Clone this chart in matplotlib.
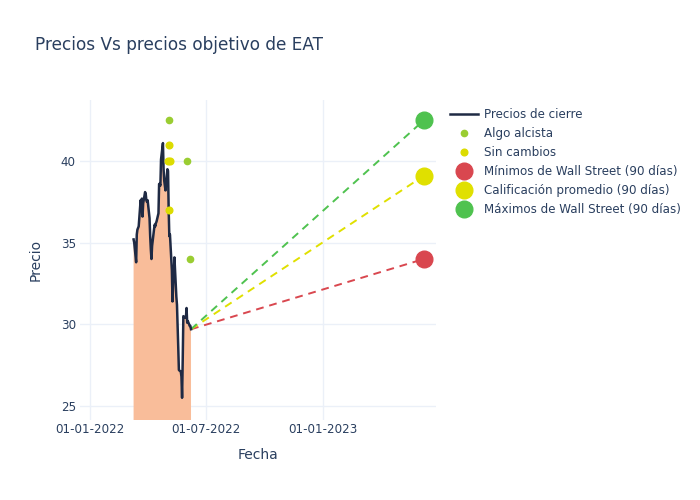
#!/usr/bin/env python3
import matplotlib
matplotlib.use('Agg')
import matplotlib.pyplot as plt
import matplotlib.dates as mdates
import pandas as pd

# Closing prices, business days 10-03-2022 .. 08-06-2022
dates = pd.bdate_range('2022-03-10', '2022-06-08')
close = [35.2, 35.0, 33.8, 35.5, 35.8, 35.9, 36.0, 37.6, 37.2, 37.7,
         36.6, 37.4, 38.1, 38.0, 37.6, 37.5, 37.6, 36.5, 35.4, 34.6,
         34.0, 34.8, 35.8, 36.1, 36.0, 36.2, 36.3, 36.8, 38.6, 38.6,
         38.5, 40.1, 41.1, 39.5, 38.8, 38.5, 38.2, 39.5, 39.4, 37.0,
         35.4, 35.5, 33.3, 31.4, 32.6, 33.1, 34.1, 31.7, 31.2, 29.9,
         28.6, 27.2, 27.1, 26.8, 25.5, 27.8, 30.5, 30.4, 30.4, 31.0,
         30.1, 30.2, 29.9, 29.9, 29.7]

# Analyst price targets
alcista_dates = pd.to_datetime(['2022-05-04', '2022-06-01', '2022-06-07'])
alcista_vals = [42.5, 40.0, 34.0]
sin_cambios_dates = pd.to_datetime(['2022-05-03', '2022-05-04', '2022-05-06', '2022-05-04'])
sin_cambios_vals = [40.0, 41.0, 40.0, 37.0]

# 90 day targets (one year out)
target_date = pd.Timestamp('2023-06-08')
target_labels = ['Mínimos de Wall Street (90 días)',
                 'Calificación promedio (90 días)',
                 'Máximos de Wall Street (90 días)']
target_vals = [34.0, 39.1, 42.5]
target_colors = ['#d9474f', '#e0e000', '#4fc24f']

text_col = '#2a3f5f'
grid_col = '#ebf0f8'

fig = plt.figure(figsize=(7, 5), dpi=100)
ax = fig.add_axes([80/700, 80/500, 356/700, 320/500])

ax.fill_between(dates, close, 0, color='#f9bd9a', linewidth=0, zorder=1)
price_line, = ax.plot(dates, close, color='#1f2a44', linewidth=1.8,
                      label='Precios de cierre', zorder=3)
alc, = ax.plot(alcista_dates, alcista_vals, 'o', color='#9acd32', markersize=4.5,
               linestyle='none', label='Algo alcista', zorder=4)
sc, = ax.plot(sin_cambios_dates, sin_cambios_vals, 'o', color='#dcdc00', markersize=4.8,
              linestyle='none', label='Sin cambios', zorder=4)

handles = [price_line, alc, sc]
last_date = dates[-1]
last_val = close[-1]
for lab, val, col in zip(target_labels, target_vals, target_colors):
  ax.plot([last_date, target_date], [last_val, val], '--', color=col,
          linewidth=1.4, dashes=(4, 3), zorder=2)
  h, = ax.plot([target_date], [val], 'o', color=col, markersize=12,
               linestyle='none', label=lab, zorder=5)
  handles.append(h)

# Axes styling
ax.set_xlim(pd.Timestamp('2021-12-16'), pd.Timestamp('2023-06-27'))
ax.set_ylim(24.14, 43.74)
ax.set_yticks([25, 30, 35, 40])
ax.set_xticks(pd.to_datetime(['2022-01-01', '2022-07-01', '2023-01-01']))
ax.xaxis.set_major_formatter(mdates.DateFormatter('%d-%m-%Y'))
ax.grid(True, color=grid_col, linewidth=1)
ax.set_axisbelow(True)
for s in ax.spines.values():
  s.set_visible(False)
ax.tick_params(length=0, colors=text_col, labelsize=8.6)
ax.tick_params(axis='x', pad=2)
ax.tick_params(axis='y', pad=3)

ax.set_xlabel('Fecha', color=text_col, fontsize=10, labelpad=9)
ax.set_ylabel('Precio', color=text_col, fontsize=10, labelpad=13)

fig.text(35/700, 1 - 45/500, 'Precios Vs precios objetivo de EAT', color=text_col,
         fontsize=12.2, va='center', ha='left')

fig.legend(handles=handles, loc='upper left', bbox_to_anchor=(450/700, 1 - 108/500),
           frameon=False, fontsize=8.6, labelcolor=text_col, handlelength=2.35,
           handletextpad=0.5, labelspacing=0.5, borderaxespad=0, borderpad=0)

fig.savefig('out.png', dpi=100)
